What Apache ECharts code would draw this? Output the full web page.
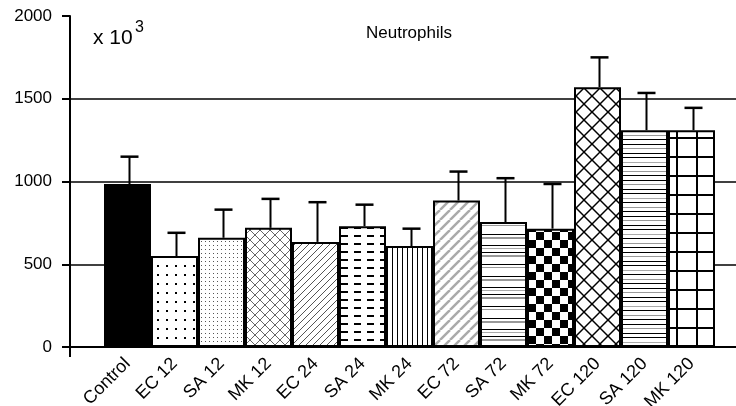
<!DOCTYPE html>
<html><head><meta charset="utf-8">
<script src="https://cdn.jsdelivr.net/npm/echarts@6/dist/echarts.min.js"></script>
<style>html,body{margin:0;padding:0;background:#fff}#c{width:736px;height:406px}</style>
</head><body><div id="c"></div>
<script>
const categories = ['Control','EC 12','SA 12','MK 12','EC 24','SA 24','MK 24','EC 72','SA 72','MK 72','EC 120','SA 120','MK 120'];
const means = [985, 550, 660, 720, 635, 730, 610, 885, 755, 715, 1570, 1310, 1310];
const sd = [165, 140, 170, 175, 240, 130, 105, 175, 265, 270, 180, 225, 135];
const yTicks = [0, 500, 1000, 1500, 2000];
const titleText = 'Neutrophils';
const unitText = 'x 10';
const unitExp = '3';

function pat(w, h, draw) {
  const c = document.createElement('canvas');
  c.width = w; c.height = h;
  const g = c.getContext('2d');
  g.fillStyle = '#fff'; g.fillRect(0, 0, w, h);
  draw(g, w, h);
  return { image: c, repeat: 'repeat' };
}
function diag(g, w, h, dir, color, lw) {
  g.strokeStyle = color; g.lineWidth = lw;
  for (let k = -1; k <= 1; k++) {
    g.beginPath();
    if (dir === '/') { g.moveTo(k * w, h); g.lineTo(k * w + w, 0); }
    else { g.moveTo(k * w, 0); g.lineTo(k * w + w, h); }
    g.stroke();
  }
}
function hlines(g, w, list) {
  list.forEach(([y, col, t]) => { g.fillStyle = col; g.fillRect(0, y, w, t); });
}
const fills = [
  '#000',
  pat(9, 9, g => { g.fillStyle = '#000'; g.fillRect(4, 4, 2, 2); }),
  pat(4, 4, g => { g.fillStyle = '#555'; g.fillRect(1, 1, 1, 1); }),
  pat(10, 10, (g, w, h) => { diag(g, w, h, '/', '#666', 1); diag(g, w, h, '\\', '#666', 1); }),
  pat(7, 7, (g, w, h) => { diag(g, w, h, '/', '#555', 1); }),
  pat(13, 8, g => { g.fillStyle = '#000'; g.fillRect(3, 3, 7, 2); }),
  pat(5, 5, g => { g.fillStyle = '#000'; g.fillRect(2, 0, 1, 5); }),
  pat(10, 10, (g, w, h) => { diag(g, w, h, '/', '#aaa', 2.5); }),
  pat(4, 42, (g, w) => hlines(g, w, [[0, '#000', 1], [3, '#999', 2], [12, '#000', 1], [15, '#999', 1], [24, '#000', 1], [27, '#999', 2], [35, '#000', 1], [38, '#aaa', 1]])),
  pat(16, 16, g => { g.fillStyle = '#000'; g.fillRect(0, 0, 8, 8); g.fillRect(8, 8, 8, 8); }),
  pat(16, 16, (g, w, h) => { diag(g, w, h, '/', '#000', 1.5); diag(g, w, h, '\\', '#000', 1.5); }),
  pat(4, 36, (g, w) => hlines(g, w, [[0, '#000', 1], [4, '#999', 1], [9, '#000', 1], [13, '#000', 1], [18, '#aaa', 1], [22, '#000', 1], [27, '#999', 1], [31, '#000', 1]])),
  pat(20, 19, g => { g.fillStyle = '#000'; g.fillRect(16, 0, 2, 19); g.fillRect(0, 4, 20, 2); })
];

const chart = echarts.init(document.getElementById('c'), null, { renderer: 'canvas' });
const FONT = "'Liberation Sans', Arial, Helvetica, sans-serif";
chart.setOption({
  animation: false,
  textStyle: { fontFamily: FONT, color: '#000' },
  title: [{ text: titleText, left: 361, top: 20, textStyle: { fontSize: 17, fontWeight: 'normal', color: '#000', fontFamily: FONT } }],
  graphic: [
    { type: 'text', left: 93, top: 28, style: { text: unitText, fontSize: 21, fill: '#000', fontFamily: FONT } },
    { type: 'text', left: 135, top: 20, style: { text: unitExp, fontSize: 16, fill: '#000', fontFamily: FONT } }
  ],
  grid: [
    { left: 104, right: 21, top: 16, bottom: 59, containLabel: false, outerBoundsMode: 'none' },
    { left: 70, right: 0, top: 16, bottom: 59, containLabel: false, outerBoundsMode: 'none' }
  ],
  xAxis: [
    { type: 'category', gridIndex: 0, data: categories,
      axisLine: { show: false }, axisTick: { show: false },
      axisLabel: { interval: 0, rotate: 45, fontSize: 18, color: '#000', margin: 14, fontFamily: FONT } },
    { type: 'value', gridIndex: 1, min: 0, max: 1, interval: 1,
      axisLine: { show: true, lineStyle: { color: '#000', width: 2 } },
      axisTick: { show: true, customValues: [0], length: 10, lineStyle: { color: '#000', width: 2 } },
      axisLabel: { show: false }, splitLine: { show: false } }
  ],
  yAxis: [
    { type: 'value', gridIndex: 0, min: 0, max: 2000, interval: 500, show: false },
    { type: 'value', gridIndex: 1, min: 0, max: 2000, interval: 500,
      axisLine: { show: true, lineStyle: { color: '#000', width: 2 } },
      axisTick: { show: true, length: 8, lineStyle: { color: '#000', width: 2 } },
      axisLabel: { fontSize: 17, color: '#000', margin: 18, fontFamily: FONT,
        formatter: v => yTicks.includes(v) ? String(v) : '' },
      splitLine: { show: true, lineStyle: { color: ['#000', '#000', '#000', '#000', 'rgba(0,0,0,0)'], width: 1.6 } } }
  ],
  series: [
    { type: 'bar', xAxisIndex: 0, yAxisIndex: 0, barCategoryGap: '0%', z: 3,
      data: means.map((v, i) => ({ value: v, itemStyle: { color: fills[i] } })),
      itemStyle: { borderColor: '#000', borderWidth: 2 } },
    { type: 'custom', xAxisIndex: 0, yAxisIndex: 0, z: 4,
      data: categories.map((c, i) => [i, means[i], sd[i]]),
      renderItem: (params, api) => {
        const x = api.value(0), m = api.value(1), s = api.value(2);
        const p0 = api.coord([x, m]);
        const p1 = api.coord([x, m + s]);
        return { type: 'group', children: [
          { type: 'line', shape: { x1: p0[0] + 2, y1: p0[1], x2: p1[0] + 2, y2: p1[1] }, style: { stroke: '#000', lineWidth: 2 } },
          { type: 'line', shape: { x1: p1[0] - 7, y1: p1[1], x2: p1[0] + 11, y2: p1[1] }, style: { stroke: '#000', lineWidth: 2.5 } }
        ] };
      } }
  ]
});
</script></body></html>
